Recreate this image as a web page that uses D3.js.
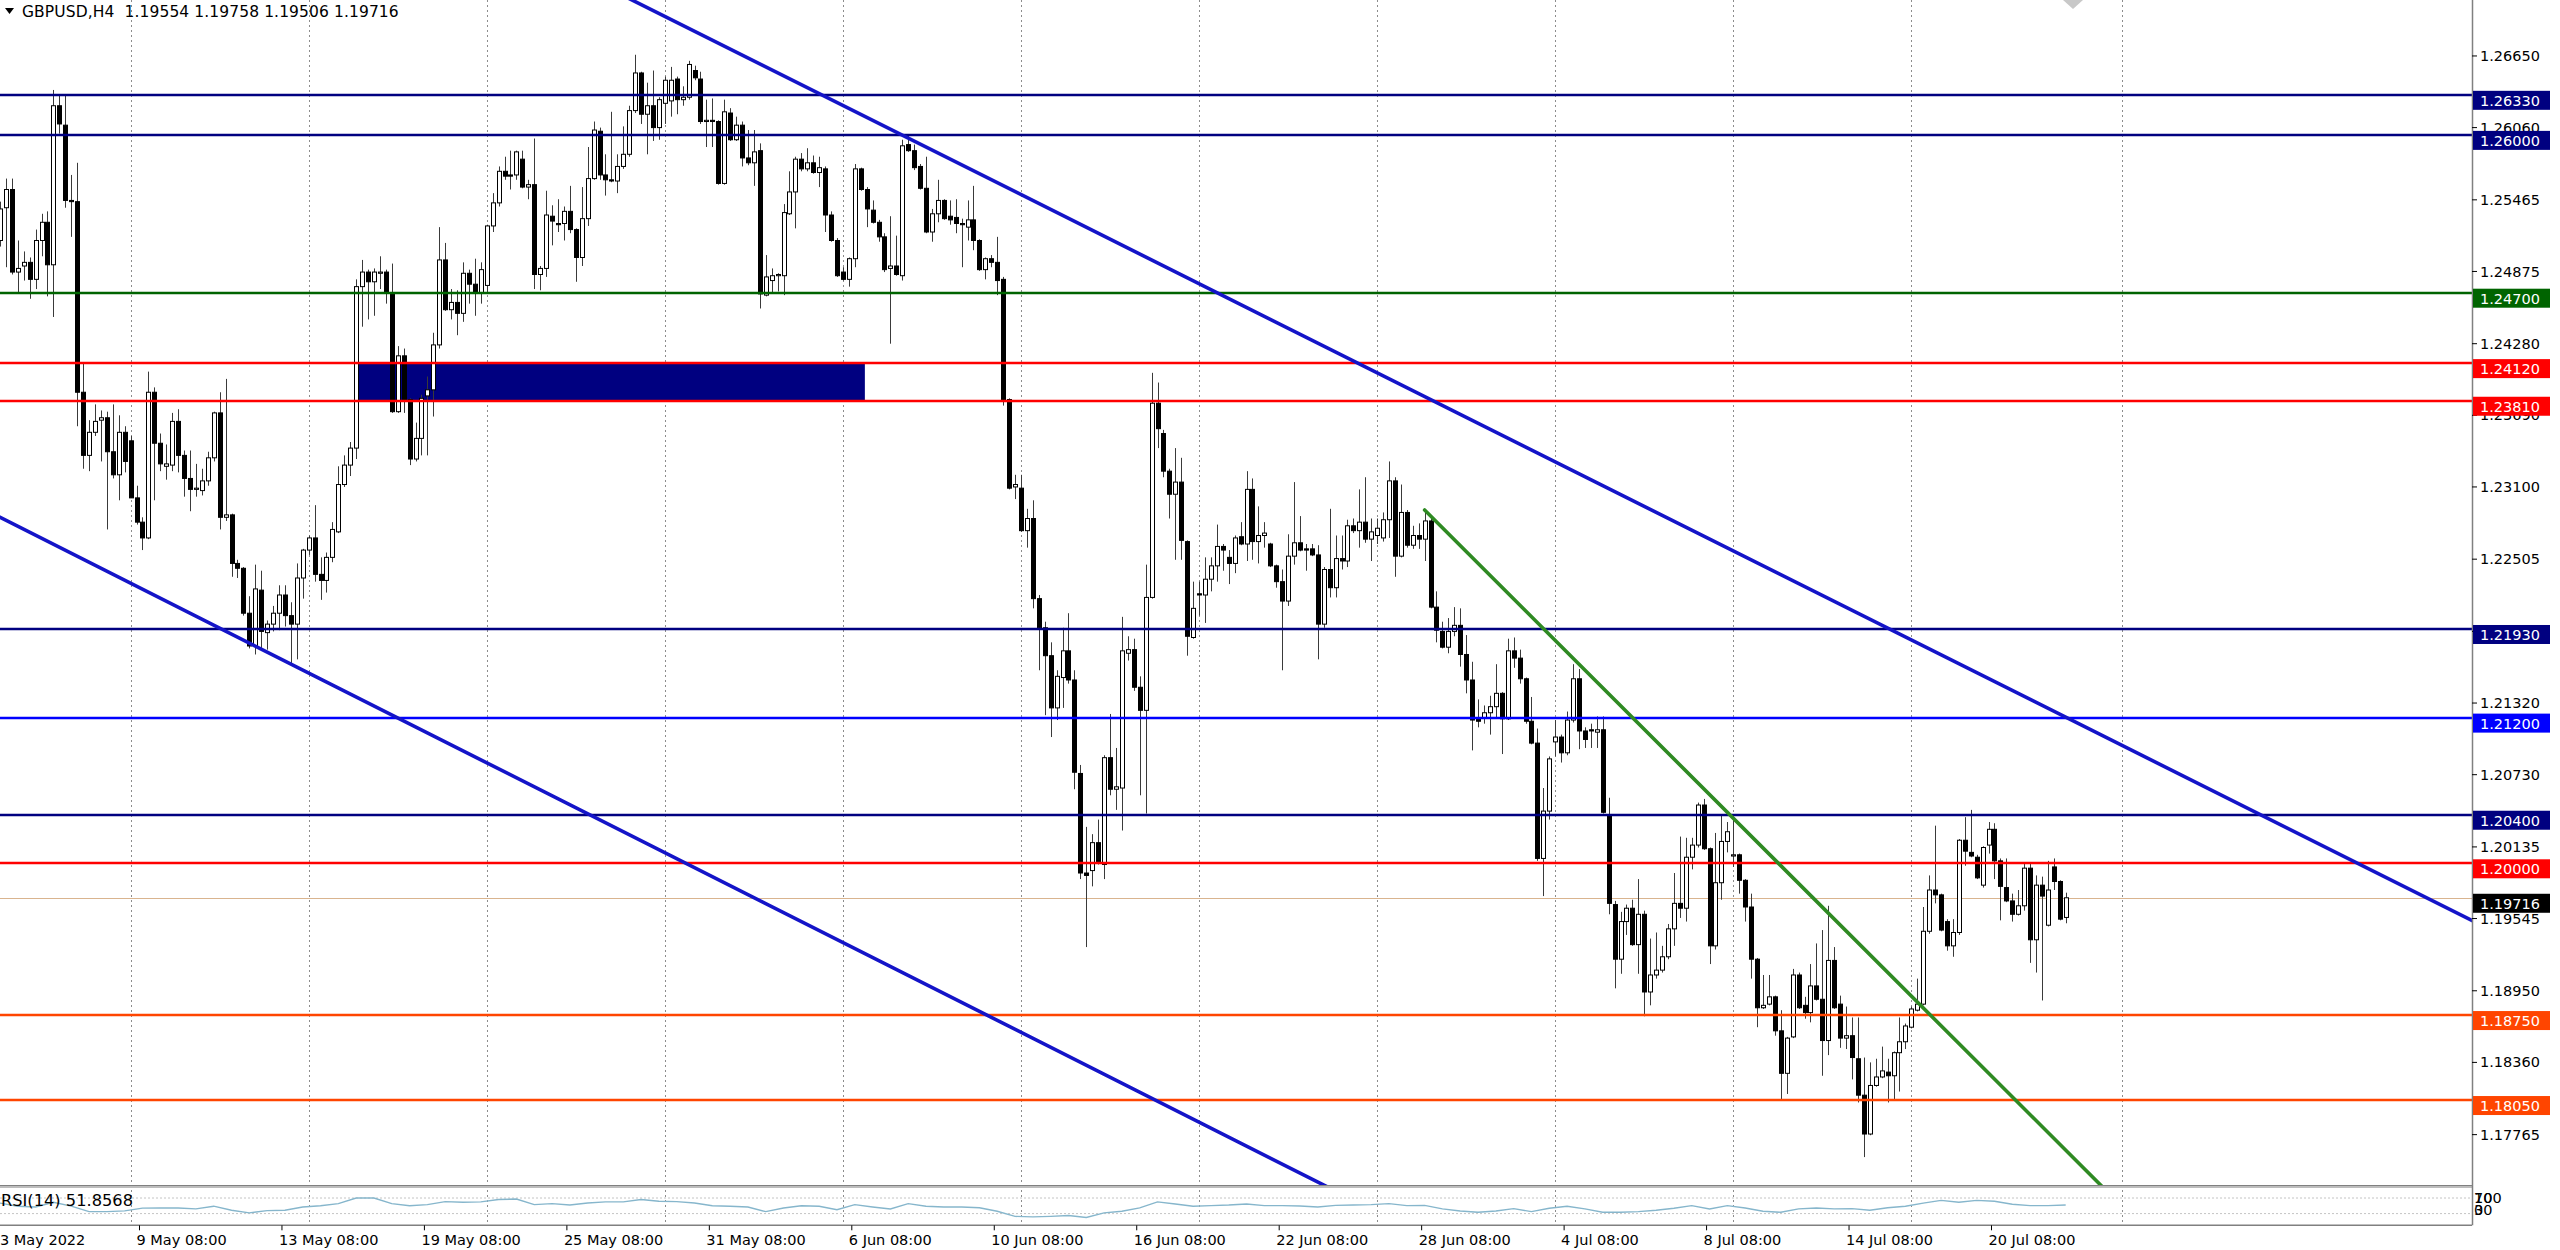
<!DOCTYPE html>
<html>
<head>
<meta charset="utf-8">
<script src="https://cdn.jsdelivr.net/npm/d3@7"></script>
<style>
  html, body { margin:0; padding:0; background:#fff; overflow:hidden; }
  svg { display:block; }
  text { font-family: "DejaVu Sans", Tahoma, sans-serif; }
</style>
</head>
<body>
<svg id="chart" width="2560" height="1250"></svg>
<script>
// GBPUSD H4, one row per bar: [open, high, low, close], oldest first
const candles = [
  [1.2513,1.2545,1.2508,1.2539],[1.2540,1.2564,1.2491,1.2555],[1.2555,1.2564,1.2485,1.2487],[1.2487,1.2513,1.2470,1.2490],
  [1.2492,1.2504,1.2480,1.2495],[1.2495,1.2499,1.2465,1.2481],[1.2481,1.2522,1.2473,1.2513],[1.2513,1.2535,1.2500,1.2528],
  [1.2528,1.2537,1.2467,1.2493],[1.2493,1.2637,1.2450,1.2624],[1.2624,1.2633,1.2601,1.2609],[1.2608,1.2633,1.2540,1.2546],
  [1.2546,1.2567,1.2516,1.2545],[1.2545,1.2577,1.2360,1.2388],[1.2388,1.2412,1.2325,1.2336],[1.2336,1.2365,1.2323,1.2355],
  [1.2355,1.2378,1.2352,1.2364],[1.2365,1.2373,1.2331,1.2367],[1.2367,1.2372,1.2275,1.2339],[1.2339,1.2378,1.2317,1.2320],
  [1.2320,1.2369,1.2299,1.2355],[1.2355,1.2360,1.2322,1.2331],[1.2348,1.2352,1.2301,1.2301],[1.2301,1.2311,1.2279,1.2281],
  [1.2281,1.2285,1.2258,1.2268],[1.2268,1.2405,1.2267,1.2388],[1.2388,1.2392,1.2299,1.2346],[1.2346,1.2354,1.2323,1.2329],
  [1.2327,1.2345,1.2316,1.2329],[1.2328,1.2371,1.2323,1.2364],[1.2364,1.2374,1.2322,1.2336],[1.2336,1.2340,1.2302,1.2317],
  [1.2317,1.2340,1.2290,1.2308],[1.2308,1.2329,1.2302,1.2309],[1.2307,1.2325,1.2303,1.2315],[1.2315,1.2339,1.2311,1.2334],
  [1.2334,1.2372,1.2331,1.2371],[1.2371,1.2388,1.2275,1.2285],[1.2285,1.2399,1.2282,1.2287],[1.2287,1.2288,1.2236,1.2247],
  [1.2247,1.2250,1.2235,1.2243],[1.2243,1.2244,1.2204,1.2206],[1.2206,1.2220,1.2177,1.2179],[1.2179,1.2246,1.2172,1.2226],
  [1.2225,1.2241,1.2176,1.2191],[1.2190,1.2200,1.2176,1.2197],[1.2197,1.2212,1.2191,1.2206],[1.2206,1.2229,1.2192,1.2221],
  [1.2221,1.2229,1.2195,1.2204],[1.2204,1.2215,1.2163,1.2197],[1.2197,1.2247,1.2168,1.2235],[1.2235,1.2259,1.2218,1.2258],
  [1.2258,1.2270,1.2254,1.2268],[1.2268,1.2295,1.2232,1.2238],[1.2238,1.2252,1.2217,1.2233],[1.2233,1.2256,1.2223,1.2252],
  [1.2252,1.2281,1.2248,1.2275],[1.2273,1.2327,1.2272,1.2312],[1.2312,1.2336,1.2310,1.2328],[1.2328,1.2347,1.2319,1.2342],
  [1.2342,1.2481,1.2333,1.2475],[1.2475,1.2497,1.2442,1.2487],[1.2487,1.2489,1.2448,1.2479],[1.2479,1.2490,1.2451,1.2487],
  [1.2486,1.2500,1.2473,1.2487],[1.2487,1.2489,1.2461,1.2470],[1.2470,1.2494,1.2371,1.2372],[1.2372,1.2426,1.2371,1.2418],
  [1.2418,1.2424,1.2371,1.2382],[1.2382,1.2383,1.2328,1.2333],[1.2333,1.2363,1.2331,1.2350],[1.2350,1.2386,1.2336,1.2383],
  [1.2385,1.2401,1.2336,1.2390],[1.2390,1.2437,1.2368,1.2427],[1.2427,1.2524,1.2424,1.2497],[1.2497,1.2511,1.2455,1.2456],
  [1.2456,1.2473,1.2448,1.2462],[1.2462,1.2472,1.2435,1.2453],[1.2453,1.2495,1.2446,1.2486],[1.2486,1.2489,1.2461,1.2477],
  [1.2477,1.2498,1.2451,1.2470],[1.2470,1.2495,1.2461,1.2489],[1.2476,1.2526,1.2470,1.2525],[1.2525,1.2552,1.2520,1.2544],
  [1.2544,1.2574,1.2541,1.2570],[1.2570,1.2582,1.2563,1.2566],[1.2567,1.2587,1.2555,1.2566],[1.2567,1.2587,1.2563,1.2586],
  [1.2580,1.2587,1.2556,1.2557],[1.2557,1.2563,1.2547,1.2559],[1.2559,1.2597,1.2473,1.2485],[1.2485,1.2492,1.2472,1.2490],
  [1.2490,1.2554,1.2483,1.2534],[1.2533,1.2542,1.2509,1.2529],[1.2527,1.2547,1.2520,1.2526],[1.2527,1.2541,1.2513,1.2537],
  [1.2537,1.2558,1.2519,1.2522],[1.2522,1.2523,1.2479,1.2499],[1.2499,1.2557,1.2492,1.2531],[1.2531,1.2590,1.2525,1.2564],
  [1.2564,1.2611,1.2563,1.2604],[1.2603,1.2606,1.2563,1.2567],[1.2567,1.2584,1.2550,1.2563],[1.2563,1.2619,1.2561,1.2562],
  [1.2562,1.2584,1.2552,1.2574],[1.2574,1.2607,1.2572,1.2584],[1.2584,1.2624,1.2582,1.2620],[1.2620,1.2666,1.2618,1.2651],
  [1.2651,1.2652,1.2609,1.2617],[1.2617,1.2643,1.2584,1.2624],[1.2624,1.2653,1.2595,1.2606],[1.2606,1.2631,1.2596,1.2629],
  [1.2626,1.2648,1.2609,1.2645],[1.2628,1.2656,1.2615,1.2645],[1.2646,1.2648,1.2617,1.2629],[1.2629,1.2640,1.2624,1.2631],
  [1.2631,1.2661,1.2629,1.2658],[1.2653,1.2657,1.2645,1.2647],[1.2646,1.2652,1.2609,1.2611],[1.2611,1.2629,1.2590,1.2612],
  [1.2612,1.2630,1.2590,1.2611],[1.2611,1.2612,1.2559,1.2560],[1.2560,1.2629,1.2559,1.2619],[1.2618,1.2622,1.2595,1.2596],
  [1.2596,1.2615,1.2595,1.2608],[1.2608,1.2611,1.2574,1.2581],[1.2581,1.2604,1.2575,1.2577],[1.2577,1.2604,1.2558,1.2586],
  [1.2587,1.2593,1.2457,1.2469],[1.2468,1.2501,1.2467,1.2483],[1.2480,1.2490,1.2469,1.2484],[1.2484,1.2486,1.2471,1.2485],
  [1.2484,1.2543,1.2468,1.2536],[1.2535,1.2570,1.2534,1.2553],[1.2553,1.2582,1.2523,1.2580],[1.2580,1.2585,1.2570,1.2572],
  [1.2572,1.2589,1.2570,1.2577],[1.2577,1.2583,1.2568,1.2569],[1.2569,1.2582,1.2557,1.2573],[1.2572,1.2574,1.2520,1.2534],
  [1.2534,1.2537,1.2512,1.2513],[1.2513,1.2515,1.2483,1.2484],[1.2487,1.2491,1.2480,1.2481],[1.2481,1.2499,1.2475,1.2498],
  [1.2498,1.2576,1.2491,1.2572],[1.2572,1.2573,1.2554,1.2555],[1.2555,1.2557,1.2524,1.2539],[1.2538,1.2546,1.2527,1.2528],
  [1.2528,1.2530,1.2512,1.2516],[1.2516,1.2519,1.2487,1.2489],[1.2490,1.2533,1.2428,1.2492],[1.2492,1.2517,1.2484,1.2485],
  [1.2484,1.2596,1.2480,1.2591],[1.2592,1.2600,1.2586,1.2587],[1.2587,1.2592,1.2571,1.2573],[1.2574,1.2576,1.2555,1.2556],
  [1.2556,1.2582,1.2519,1.2520],[1.2520,1.2539,1.2512,1.2535],[1.2535,1.2563,1.2528,1.2546],[1.2546,1.2547,1.2530,1.2531],
  [1.2533,1.2546,1.2526,1.2530],[1.2532,1.2547,1.2519,1.2527],[1.2527,1.2531,1.2491,1.2526],[1.2524,1.2546,1.2513,1.2530],
  [1.2530,1.2558,1.2505,1.2513],[1.2513,1.2514,1.2488,1.2489],[1.2489,1.2499,1.2481,1.2498],[1.2498,1.2501,1.2491,1.2495],
  [1.2495,1.2516,1.2468,1.2480],[1.2481,1.2483,1.2377,1.2382],[1.2382,1.2383,1.2308,1.2309],[1.2310,1.2320,1.2300,1.2312],
  [1.2309,1.2320,1.2273,1.2274],[1.2274,1.2292,1.2260,1.2284],[1.2284,1.2299,1.2210,1.2218],[1.2218,1.2221,1.2159,1.2194],
  [1.2194,1.2199,1.2122,1.2171],[1.2171,1.2182,1.2104,1.2128],[1.2128,1.2159,1.2118,1.2154],[1.2153,1.2194,1.2128,1.2175],
  [1.2175,1.2206,1.2148,1.2151],[1.2151,1.2159,1.2061,1.2075],[1.2074,1.2081,1.1987,1.1992],[1.1992,1.2030,1.1931,1.1990],
  [1.1994,1.2024,1.1981,1.2017],[1.2017,1.2036,1.1999,1.2000],[1.1999,1.2089,1.1987,1.2087],[1.2087,1.2123,1.2056,1.2061],
  [1.2061,1.2095,1.2044,1.2063],[1.2062,1.2203,1.2027,1.2175],[1.2173,1.2187,1.2167,1.2176],[1.2176,1.2185,1.2142,1.2145],
  [1.2145,1.2154,1.2056,1.2126],[1.2126,1.2246,1.2041,1.2219],[1.2219,1.2404,1.2218,1.2379],[1.2379,1.2396,1.2342,1.2358],
  [1.2354,1.2357,1.2318,1.2323],[1.2323,1.2325,1.2284,1.2304],[1.2304,1.2342,1.2250,1.2314],[1.2314,1.2334,1.2250,1.2266],
  [1.2265,1.2266,1.2171,1.2187],[1.2186,1.2232,1.2185,1.2210],[1.2222,1.2232,1.2204,1.2221],[1.2221,1.2252,1.2198,1.2234],
  [1.2234,1.2252,1.2224,1.2245],[1.2245,1.2279,1.2232,1.2261],[1.2261,1.2263,1.2241,1.2258],[1.2252,1.2258,1.2230,1.2247],
  [1.2247,1.2270,1.2239,1.2268],[1.2269,1.2281,1.2262,1.2263],[1.2263,1.2323,1.2249,1.2308],[1.2308,1.2317,1.2250,1.2265],
  [1.2265,1.2294,1.2247,1.2270],[1.2270,1.2281,1.2260,1.2272],[1.2263,1.2264,1.2244,1.2245],[1.2245,1.2246,1.2227,1.2232],
  [1.2232,1.2242,1.2159,1.2216],[1.2216,1.2271,1.2212,1.2253],[1.2253,1.2314,1.2246,1.2264],[1.2264,1.2286,1.2257,1.2258],
  [1.2259,1.2263,1.2241,1.2258],[1.2259,1.2263,1.2253,1.2254],[1.2254,1.2262,1.2168,1.2197],[1.2197,1.2244,1.2194,1.2242],
  [1.2242,1.2292,1.2219,1.2227],[1.2227,1.2270,1.2219,1.2251],[1.2251,1.2270,1.2242,1.2249],[1.2249,1.2283,1.2244,1.2278],
  [1.2278,1.2284,1.2272,1.2274],[1.2274,1.2308,1.2260,1.2281],[1.2281,1.2318,1.2264,1.2267],[1.2267,1.2284,1.2249,1.2273],
  [1.2270,1.2284,1.2263,1.2276],[1.2268,1.2289,1.2265,1.2283],[1.2283,1.2331,1.2268,1.2315],[1.2315,1.2318,1.2236,1.2253],
  [1.2253,1.2312,1.2252,1.2289],[1.2289,1.2291,1.2260,1.2262],[1.2262,1.2278,1.2259,1.2270],[1.2270,1.2280,1.2259,1.2267],
  [1.2267,1.2291,1.2249,1.2282],[1.2282,1.2286,1.2210,1.2211],[1.2211,1.2224,1.2182,1.2192],[1.2191,1.2199,1.2177,1.2178],
  [1.2178,1.2202,1.2173,1.2191],[1.2191,1.2211,1.2187,1.2196],[1.2196,1.2210,1.2162,1.2172],[1.2172,1.2188,1.2140,1.2151],
  [1.2151,1.2166,1.2093,1.2118],[1.2120,1.2135,1.2112,1.2117],[1.2120,1.2130,1.2115,1.2124],[1.2124,1.2138,1.2106,1.2129],
  [1.2129,1.2164,1.2120,1.2140],[1.2140,1.2141,1.2090,1.2119],[1.2119,1.2185,1.2118,1.2175],[1.2175,1.2186,1.2161,1.2169],
  [1.2169,1.2176,1.2148,1.2152],[1.2152,1.2153,1.2115,1.2117],[1.2117,1.2137,1.2098,1.2099],[1.2099,1.2111,1.2002,1.2004],
  [1.2004,1.2062,1.1973,1.2043],[1.2043,1.2088,1.2036,1.2086],[1.2100,1.2118,1.2088,1.2104],[1.2104,1.2106,1.2083,1.2091],
  [1.2091,1.2125,1.2089,1.2118],[1.2118,1.2164,1.2116,1.2152],[1.2152,1.2160,1.2094,1.2109],[1.2109,1.2112,1.2095,1.2102],
  [1.2110,1.2115,1.2095,1.2109],[1.2108,1.2121,1.2095,1.2110],[1.2110,1.2121,1.2041,1.2042],[1.2040,1.2054,1.1958,1.1967],
  [1.1966,1.1969,1.1897,1.1921],[1.1921,1.1960,1.1909,1.1952],[1.1952,1.1966,1.1941,1.1963],[1.1963,1.1970,1.1932,1.1933],
  [1.1933,1.1987,1.1909,1.1958],[1.1958,1.1961,1.1874,1.1894],[1.1894,1.1938,1.1883,1.1908],[1.1908,1.1943,1.1905,1.1912],
  [1.1912,1.1932,1.1910,1.1923],[1.1923,1.1950,1.1921,1.1946],[1.1946,1.1992,1.1932,1.1967],[1.1967,1.2022,1.1955,1.1963],
  [1.1963,1.2021,1.1952,1.2005],[1.2005,1.2021,1.1995,1.2015],[1.2015,1.2050,1.2013,1.2048],[1.2048,1.2053,1.2011,1.2012],
  [1.2012,1.2013,1.1917,1.1932],[1.1932,1.2025,1.1929,1.1984],[1.1984,1.2040,1.1970,1.2018],[1.2018,1.2034,1.2009,1.2026],
  [1.2006,1.2040,1.1997,1.2007],[1.2007,1.2008,1.1975,1.1986],[1.1986,1.1987,1.1952,1.1964],[1.1964,1.1975,1.1905,1.1921],
  [1.1921,1.1922,1.1865,1.1881],[1.1881,1.1908,1.1880,1.1883],[1.1884,1.1908,1.1883,1.1890],[1.1890,1.1891,1.1858,1.1862],
  [1.1862,1.1879,1.1805,1.1827],[1.1827,1.1857,1.1810,1.1856],[1.1857,1.1913,1.1856,1.1908],[1.1908,1.1910,1.1880,1.1881],
  [1.1883,1.1890,1.1872,1.1877],[1.1877,1.1917,1.1869,1.1899],[1.1899,1.1934,1.1887,1.1888],[1.1888,1.1945,1.1825,1.1854],
  [1.1854,1.1965,1.1842,1.1920],[1.1920,1.1931,1.1880,1.1881],[1.1884,1.1891,1.1848,1.1856],[1.1856,1.1882,1.1847,1.1858],
  [1.1858,1.1873,1.1822,1.1840],[1.1839,1.1873,1.1803,1.1809],[1.1809,1.1840,1.1758,1.1777],[1.1777,1.1836,1.1776,1.1817],
  [1.1817,1.1839,1.1816,1.1824],[1.1824,1.1849,1.1823,1.1829],[1.1828,1.1839,1.1803,1.1825],[1.1825,1.1845,1.1805,1.1844],
  [1.1844,1.1873,1.1812,1.1853],[1.1853,1.1868,1.1847,1.1866],[1.1865,1.1882,1.1864,1.1880],[1.1879,1.1905,1.1878,1.1884],
  [1.1884,1.1964,1.1883,1.1944],[1.1944,1.1990,1.1942,1.1978],[1.1978,1.2031,1.1967,1.1974],[1.1974,1.1975,1.1944,1.1945],
  [1.1952,1.1954,1.1928,1.1932],[1.1932,1.1954,1.1923,1.1943],[1.1943,1.2020,1.1941,1.2019],[1.2019,1.2038,1.1998,1.2010],
  [1.2009,1.2044,1.2005,1.2006],[1.2005,1.2007,1.1987,1.1988],[1.1982,1.2014,1.1980,1.2013],[1.2015,1.2034,1.2008,1.2028],
  [1.2028,1.2033,1.1987,1.2002],[1.2002,1.2004,1.1953,1.1981],[1.1980,1.2004,1.1968,1.1969],[1.1969,1.1975,1.1952,1.1958],
  [1.1958,1.1978,1.1957,1.1965],[1.1965,1.2001,1.1961,1.1996],[1.1996,1.2001,1.1918,1.1937],[1.1937,1.1990,1.1910,1.1982],
  [1.1982,1.1989,1.1887,1.1973],[1.1949,1.2002,1.1948,1.1978],[1.1997,1.2004,1.1978,1.1985],[1.1985,1.1986,1.1953,1.1954],
  [1.19554,1.19758,1.19506,1.19716]
];

const rsiStep = 3;
const rsiValues = [
  57,49,47,59,49,35,35,37,44,44.5,44.5,42,49,38.5,32,37.7,38.5,47,50,55.5,
  70,70,55.5,50,53,60.6,59,60,66,67.4,53,55.5,52,57,60,60,66,61.5,60.6,57,
  50,49,47,35,44.5,50,49,40,53,47,42,55.5,49,47,47,45,36,23,21.5,
  23,25,20,32,36,44.5,60,54.7,49,50.4,52,54.7,50.4,50.4,49.6,47,51,52,53,55.5,
  50.4,51,42,36.8,33.4,36.8,42.8,35,43.6,48.7,42,33.4,33.4,35,38.5,43.6,50.4,42,50.4,44.5,
  36,33.4,42,44.5,42,42.8,38.5,45,48.7,57,64,59,64,61.5,54,50.4,50.4,51.9
];
const rsiLast = "51.8568";
const rsiLevels = [70, 30];
const rsiAxisLabels = ["100", "70", "30", "0"];

// horizontal lines drawn on the chart
const levelPrices = [1.26330, 1.26000, 1.24700, 1.24120, 1.23810, 1.21930, 1.21200, 1.20400, 1.20000, 1.18750, 1.18050];
const levelKinds  = ["navy","navy","green","red","red","navy","blue","navy","red","orange","orange"];
const bidPrice = 1.19716;

// trendlines: [bar, price] anchor pairs
const channelTop    = [[120, 1.2678], [416, 1.1954]];
const channelBottom = [[0, 1.2285], [223, 1.1735]];
const greenTrend    = [[240, 1.2291], [291, 1.2042]];

// filled zone between the two red lines
const zoneBars   = [60, 145.7];
const zonePrices = [1.24120, 1.23810];

// price axis ticks
const priceTicks = ["1.26650","1.26060","1.25465","1.24875","1.24280","1.23690","1.23100","1.22505",
                    "1.21910","1.21320","1.20730","1.20135","1.19545","1.18950","1.18360","1.17765"];

// time axis labels, one every 24 bars
const timeLabels = ["3 May 2022","9 May 08:00","13 May 08:00","19 May 08:00","25 May 08:00","31 May 08:00",
                    "6 Jun 08:00","10 Jun 08:00","16 Jun 08:00","22 Jun 08:00","28 Jun 08:00","4 Jul 08:00",
                    "8 Jul 08:00","14 Jul 08:00","20 Jul 08:00"];

const header = "GBPUSD,H4";

// ---------- layout ----------
const W = 2560, H = 1250;
const plotRight = 2472;        // price axis line
const mainBottom = 1185.5;     // bottom of price pane
const rsiTop = 1186.3, rsiBottom = 1225.3;

const colors = {
  navy: "#000080", green: "#006400", red: "#ff0000", blue: "#0000ff", orange: "#ff4500",
  trendBlue: "#1414c8", trendGreen: "#2f8a23", grid: "#8c8c8c", axis: "#808080"
};

const svg = d3.select("#chart");

const x = d3.scaleLinear().domain([0, 348]).range([0, 2065.7]);
const y = d3.scaleLinear().domain([1.27111, 1.17346]).range([0, mainBottom]);
const yRsi = d3.scaleLinear().domain([0, 100]).range([rsiBottom, rsiTop]);

svg.append("rect").attr("width", W).attr("height", H).attr("fill", "#fff");

svg.append("defs").append("clipPath").attr("id", "mainClip")
  .append("rect").attr("x", 0).attr("y", 0).attr("width", plotRight).attr("height", mainBottom);

// vertical grid (every 30 bars) + one in the shifted area
const gridBars = d3.range(22, 330, 30).concat([357.5]);
const gridG = svg.append("g");
gridBars.forEach(b => {
  gridG.append("line")
    .attr("x1", Math.round(x(b)) + 0.5).attr("x2", Math.round(x(b)) + 0.5)
    .attr("y1", 0).attr("y2", rsiBottom)
    .attr("stroke", colors.grid).attr("stroke-width", 1).attr("stroke-dasharray", "2,3");
});

const main = svg.append("g").attr("clip-path", "url(#mainClip)");

// zone rectangle sits behind the candles
main.append("rect")
  .attr("x", x(zoneBars[0])).attr("y", y(zonePrices[0]))
  .attr("width", x(zoneBars[1]) - x(zoneBars[0]))
  .attr("height", y(zonePrices[1]) - y(zonePrices[0]))
  .attr("fill", colors.navy);

// bid line
main.append("line")
  .attr("x1", 0).attr("x2", plotRight)
  .attr("y1", Math.round(y(bidPrice)) + 0.5).attr("y2", Math.round(y(bidPrice)) + 0.5)
  .attr("stroke", "#d9b48f").attr("stroke-width", 1);

// candles
const bodyW = 4;
const candleG = main.append("g");
candles.forEach((c, i) => {
  const [o, h, l, cl] = c;
  const cx = Math.round(x(i)) + 0.5;
  candleG.append("line")
    .attr("x1", cx).attr("x2", cx).attr("y1", y(h)).attr("y2", y(l))
    .attr("stroke", "#3a3a3a").attr("stroke-width", 1);
  const top = y(Math.max(o, cl)), bot = y(Math.min(o, cl));
  candleG.append("rect")
    .attr("x", cx - bodyW / 2).attr("y", top)
    .attr("width", bodyW).attr("height", Math.max(1, bot - top))
    .attr("fill", cl >= o ? "#fff" : "#000")
    .attr("stroke", "#000").attr("stroke-width", 1);
});

// horizontal level lines, snapped to whole pixels so they stay crisp
levelPrices.forEach((p, i) => {
  const ly = Math.round(y(p));
  main.append("line")
    .attr("x1", 0).attr("x2", plotRight)
    .attr("y1", ly).attr("y2", ly)
    .attr("stroke", colors[levelKinds[i]]).attr("stroke-width", 2.4);
});

// trendlines, extended to the right edge
function trend(pts, color, extendLeft) {
  const [[b1, p1], [b2, p2]] = pts;
  const slope = (p2 - p1) / (b2 - b1);
  const bStart = extendLeft ? -10 : b1;
  const bEnd = x.invert(plotRight + 10);
  main.append("line")
    .attr("x1", x(bStart)).attr("y1", y(p1 + slope * (bStart - b1)))
    .attr("x2", x(bEnd)).attr("y2", y(p1 + slope * (bEnd - b1)))
    .attr("stroke", color).attr("stroke-width", 3.6).attr("stroke-linecap", "round");
}
trend(channelTop, colors.trendBlue, true);
trend(channelBottom, colors.trendBlue, true);
trend(greenTrend, colors.trendGreen, false);

// chart-shift marker
svg.append("path")
  .attr("d", `M${2063},0 L${2083},0 L${2073},9 Z`)
  .attr("fill", "#c8c8c8");

// header: symbol and the OHLC of the last bar
svg.append("path").attr("d", "M5,8 L14,8 L9.5,14 Z").attr("fill", "#000");
const last = candles[candles.length - 1].map(v => v.toFixed(5)).join(" ");
svg.append("text").attr("x", 22).attr("y", 17).attr("font-size", 15.5).attr("fill", "#000")
  .attr("letter-spacing", 0.1)
  .text(header + "\u00a0\u00a0" + last);

// ---------- RSI pane ----------
svg.append("rect").attr("x", 0).attr("y", mainBottom).attr("width", plotRight).attr("height", 2.5)
  .attr("fill", "#bdbdbd");
svg.append("line").attr("x1", 0).attr("x2", plotRight).attr("y1", mainBottom).attr("y2", mainBottom)
  .attr("stroke", colors.axis).attr("stroke-width", 1);
svg.append("line").attr("x1", 0).attr("x2", plotRight).attr("y1", rsiBottom).attr("y2", rsiBottom)
  .attr("stroke", colors.axis).attr("stroke-width", 1.5);

rsiLevels.forEach(v => {
  svg.append("line").attr("x1", 0).attr("x2", plotRight)
    .attr("y1", yRsi(v)).attr("y2", yRsi(v))
    .attr("stroke", "#c4c4c4").attr("stroke-width", 1).attr("stroke-dasharray", "2,2");
});

svg.append("path")
  .datum(rsiValues)
  .attr("fill", "none").attr("stroke", "#86b6cc").attr("stroke-width", 1.4)
  .attr("d", d3.line().x((v, i) => x(i * rsiStep)).y(v => yRsi(v)));

svg.append("text").attr("x", 1).attr("y", 1206).attr("font-size", 15.5).attr("fill", "#000")
  .attr("textLength", 132).attr("lengthAdjust", "spacingAndGlyphs")
  .text(`RSI(14) ${rsiLast}`);

// RSI axis labels (tiny pane, they overlap like in the terminal)
const rsiLabelY = { "100": 1203, "70": 1203, "30": 1215, "0": 1215 };
rsiAxisLabels.forEach(t => {
  svg.append("text").attr("x", 2474).attr("y", rsiLabelY[t]).attr("font-size", 14.5)
    .attr("fill", "#000").text(t);
});

// ---------- price axis ----------
svg.append("line").attr("x1", plotRight + 0.5).attr("x2", plotRight + 0.5)
  .attr("y1", 0).attr("y2", rsiBottom)
  .attr("stroke", colors.axis).attr("stroke-width", 1.5);

const axisG = svg.append("g");
priceTicks.forEach(t => {
  const py = y(+t);
  axisG.append("line").attr("x1", plotRight).attr("x2", plotRight + 5)
    .attr("y1", py).attr("y2", py).attr("stroke", "#000");
  axisG.append("text").attr("x", 2480).attr("y", py).attr("dy", "0.35em")
    .attr("font-size", 14.5).attr("fill", "#000").text(t);
});

// price labels for the level lines and the bid
const tagG = svg.append("g");
function priceTag(p, bg) {
  const py = y(p);
  tagG.append("rect").attr("x", plotRight + 1).attr("y", py - 4).attr("width", 77).attr("height", 19)
    .attr("fill", bg);
  tagG.append("text").attr("x", 2480).attr("y", py + 6).attr("dy", "0.35em")
    .attr("font-size", 14.5).attr("fill", "#fff").text(p.toFixed(5));
}
levelPrices.forEach((p, i) => priceTag(p, colors[levelKinds[i]]));
priceTag(bidPrice, "#000");

// ---------- time axis ----------
const timeG = svg.append("g");
timeLabels.forEach((t, k) => {
  const tx = x(23.5 + 24 * (k - 1));
  timeG.append("line").attr("x1", tx).attr("x2", tx).attr("y1", rsiBottom).attr("y2", rsiBottom + 5)
    .attr("stroke", "#000");
  timeG.append("text").attr("x", Math.max(0, tx - 3)).attr("y", 1245)
    .attr("font-size", 14.5).attr("fill", "#000").text(t);
});
</script>
</body>
</html>
